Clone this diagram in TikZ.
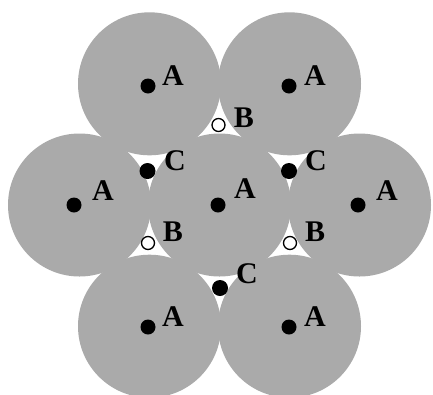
\documentclass[tikz,border=0pt]{standalone}
\usepackage{fontspec}
\setmainfont{Liberation Serif}
\begin{document}
\begin{tikzpicture}[x=1pt,y=-1pt,
  ball/.style={circle,fill=ballgray,draw=none,minimum size=143pt,inner sep=0pt},
  adot/.style={circle,fill=black,minimum size=15pt,inner sep=0pt},
  cdot/.style={circle,fill=black,minimum size=16pt,inner sep=0pt},
  bdot/.style={circle,fill=white,draw=black,line width=1.3pt,minimum size=13pt,inner sep=0pt},
  lbl/.style={font=\fontsize{30}{30}\selectfont\bfseries,inner sep=0pt}]
\definecolor{ballgray}{RGB}{170,170,170}
\useasboundingbox (0,0) rectangle (433,394);
\fill[white] (0,0) rectangle (433,394);
\begin{scope}
\clip (0,0) rectangle (433,394);
\node[ball] (s1) at (149.5,83.8) {};
\node[ball] (s2) at (289.5,83.8) {};
\node[ball] (s3) at (79.5,205) {};
\node[ball] (s4) at (219.5,205) {};
\node[ball] (s5) at (359.5,205) {};
\node[ball] (s6) at (149.5,326.2) {};
\node[ball] (s7) at (289.5,326.2) {};
\end{scope}
% A positions
\node[adot] (a1) at (148,86) {};
\node[adot] (a2) at (289,86) {};
\node[adot] (a3) at (74,205) {};
\node[adot] (a4) at (218,205) {};
\node[adot] (a5) at (358,205) {};
\node[adot] (a6) at (148,327) {};
\node[adot] (a7) at (289,327) {};
\node[lbl] (la1) at (173,76) {A};
\node[lbl] (la2) at (315,76) {A};
\node[lbl] (la3) at (103,191) {A};
\node[lbl] (la4) at (245,189) {A};
\node[lbl] (la5) at (387,191) {A};
\node[lbl] (la6) at (173,317) {A};
\node[lbl] (la7) at (315,317) {A};
% B positions
\node[bdot] (b1) at (218.5,125) {};
\node[bdot] (b2) at (148,243) {};
\node[bdot] (b3) at (290,243) {};
\node[lbl] (lb1) at (244,118) {B};
\node[lbl] (lb2) at (173,232) {B};
\node[lbl] (lb3) at (315,232) {B};
% C positions
\node[cdot] (c1) at (147.5,171) {};
\node[cdot] (c2) at (289,171) {};
\node[cdot] (c3) at (220,288) {};
\node[lbl] (lc1) at (175,161) {C};
\node[lbl] (lc2) at (316,161) {C};
\node[lbl] (lc3) at (247,274) {C};
\end{tikzpicture}
\end{document}
